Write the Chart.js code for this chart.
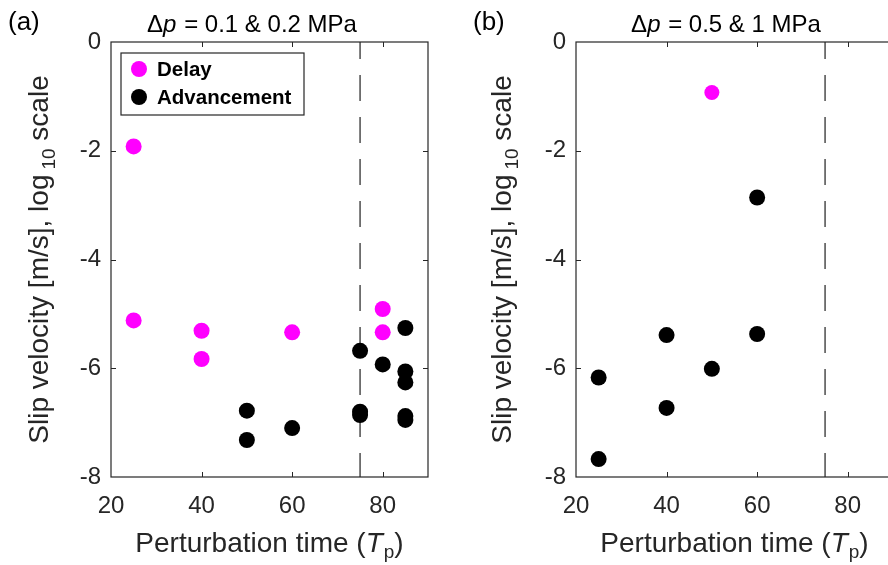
<!DOCTYPE html>
<html><head><meta charset="utf-8">
<script src="https://cdn.jsdelivr.net/npm/chart.js@4/dist/chart.umd.min.js"></script>
<style>
html,body{margin:0;padding:0;width:888px;height:565px;overflow:hidden;background:#fff;}
.wrap{position:absolute;top:0;height:565px;}
canvas{display:block;}
</style></head><body>
<div class="wrap" style="left:0;width:444px"><canvas id="ca" width="444" height="565"></canvas></div>
<div class="wrap" style="left:444px;width:500px"><canvas id="cb" width="500" height="565"></canvas></div>
<script>
// ---- data ----
const xTicks = [20, 40, 60, 80];
const yTicks = [0, -2, -4, -6, -8];
const seriesNames = ['Delay', 'Advancement'];
const markerTime = 75; // dashed reference line (Tp)

// panel (a): Δp = 0.1 & 0.2 MPa
const aDelayX = [25, 25, 40, 40, 60, 80, 80];
const aDelayY = [-1.92, -5.12, -5.31, -5.83, -5.34, -4.91, -5.34];
const aAdvX = [50, 50, 60, 75, 75, 75, 80, 85, 85, 85, 85, 85];
const aAdvY = [-6.78, -7.32, -7.10, -5.68, -6.80, -6.86, -5.93, -5.26, -6.06, -6.26, -6.88, -6.95];

// panel (b): Δp = 0.5 & 1 MPa
const bDelayX = [50];
const bDelayY = [-0.93];
const bAdvX = [60, 40, 60, 50, 25, 40, 25];
const bAdvY = [-2.86, -5.39, -5.37, -6.01, -6.17, -6.73, -7.67];

const F = '"Liberation Sans", Arial, Helvetica, sans-serif';
const AX = '#262626';
const MAG = '#ff00ff';
const BLK = '#000000';

function pts(xs, ys) { return xs.map((x, i) => ({ x: x, y: ys[i] })); }

function drawTitle(ctx, cx, by, rest) {
  ctx.save();
  ctx.fillStyle = '#000';
  ctx.textBaseline = 'alphabetic';
  ctx.textAlign = 'left';
  const n = '24px ' + F, it = 'italic 24px ' + F;
  ctx.font = n; const w1 = ctx.measureText('\u0394').width;
  ctx.font = it; const w2 = ctx.measureText('p').width + 1;
  ctx.font = n; const w3 = ctx.measureText(rest).width;
  let x = cx - (w1 + w2 + w3) / 2;
  ctx.font = n; ctx.fillText('\u0394', x, by); x += w1;
  ctx.font = it; ctx.fillText('p', x, by); x += w2;
  ctx.font = n; ctx.fillText(rest, x, by);
  ctx.restore();
}

function drawXLabel(ctx, cx, by) {
  ctx.save();
  ctx.fillStyle = AX;
  ctx.textBaseline = 'alphabetic';
  ctx.textAlign = 'left';
  const n = '28px ' + F, it = 'italic 28px ' + F, s = '19px ' + F;
  const a = 'Perturbation time (';
  ctx.font = n; const w1 = ctx.measureText(a).width;
  ctx.font = it; const w2 = ctx.measureText('T').width + 1;
  ctx.font = s; const w3 = ctx.measureText('p').width;
  ctx.font = n; const w4 = ctx.measureText(')').width;
  let x = cx - (w1 + w2 + w3 + w4) / 2;
  ctx.font = n; ctx.fillText(a, x, by); x += w1;
  ctx.font = it; ctx.fillText('T', x, by); x += w2;
  ctx.font = s; ctx.fillText('p', x, by + 6); x += w3;
  ctx.font = n; ctx.fillText(')', x, by);
  ctx.restore();
}

function drawYLabel(ctx, bx, cy) {
  ctx.save();
  ctx.translate(bx, cy);
  ctx.rotate(-Math.PI / 2);
  ctx.fillStyle = AX;
  ctx.textBaseline = 'alphabetic';
  ctx.textAlign = 'left';
  const n = '28px ' + F, s = '19px ' + F;
  const a = 'Slip velocity [m/s], log', b = '10', c = ' scale';
  ctx.font = n; const w1 = ctx.measureText(a).width + 5;
  ctx.font = s; const w2 = ctx.measureText(b).width;
  ctx.font = n; const w3 = ctx.measureText(c).width;
  let x = -(w1 + w2 + w3) / 2;
  ctx.font = n; ctx.fillText(a, x, 0); x += w1;
  ctx.font = s; ctx.fillText(b, x, 7); x += w2;
  ctx.font = n; ctx.fillText(c, x, 0);
  ctx.restore();
}

function makePlugin(opts) {
  return {
    id: 'deco' + opts.tag,
    afterDatasetsDraw(chart) {
      const ctx = chart.ctx, ca = chart.chartArea;
      const xs = chart.scales.x, ys = chart.scales.y;
      ctx.save();
      // axes box
      ctx.strokeStyle = AX;
      ctx.lineWidth = 1.2;
      ctx.strokeRect(ca.left, ca.top, ca.right - ca.left, ca.bottom - ca.top);
      // inward ticks
      const tl = 5;
      ctx.beginPath();
      xTicks.forEach(v => {
        const px = Math.round(xs.getPixelForValue(v)) + 0.5;
        if (px <= ca.left + 1 || px >= ca.right - 1) return;
        ctx.moveTo(px, ca.bottom); ctx.lineTo(px, ca.bottom - tl);
        ctx.moveTo(px, ca.top); ctx.lineTo(px, ca.top + tl);
      });
      yTicks.forEach(v => {
        const py = Math.round(ys.getPixelForValue(v)) + 0.5;
        if (py <= ca.top + 1 || py >= ca.bottom - 1) return;
        ctx.moveTo(ca.left, py); ctx.lineTo(ca.left + tl, py);
        ctx.moveTo(ca.right, py); ctx.lineTo(ca.right - tl, py);
      });
      ctx.lineWidth = 1;
      ctx.stroke();
      ctx.restore();

      // texts
      drawTitle(ctx, opts.titleX, 32, opts.titleRest);
      ctx.save();
      ctx.fillStyle = '#000';
      ctx.font = '26px ' + F;
      ctx.textBaseline = 'alphabetic';
      ctx.textAlign = 'left';
      ctx.fillText(opts.panel, opts.panelX, 30);
      ctx.restore();
      drawXLabel(ctx, (ca.left + ca.right) / 2, 552);
      drawYLabel(ctx, opts.yLabelX, (ca.top + ca.bottom) / 2);

      // legend
      if (opts.legend) {
        const lx = ca.left + 10, ly = ca.top + 11, lw = 183, lh = 62;
        ctx.save();
        ctx.fillStyle = '#fff';
        ctx.fillRect(lx, ly, lw, lh);
        ctx.strokeStyle = AX;
        ctx.lineWidth = 1.2;
        ctx.strokeRect(lx, ly, lw, lh);
        const rows = [ly + 16, ly + 44];
        chart.data.datasets.slice(0, 2).forEach((ds, i) => {
          ctx.fillStyle = ds.backgroundColor;
          ctx.beginPath();
          ctx.arc(lx + 18, rows[i], 8, 0, Math.PI * 2);
          ctx.fill();
          ctx.fillStyle = '#000';
          ctx.font = 'bold 20.5px ' + F;
          ctx.textBaseline = 'middle';
          ctx.textAlign = 'left';
          ctx.fillText(ds.label, lx + 36, rows[i] + 1);
        });
        ctx.restore();
      }
    }
  };
}

function makeChart(id, delay, adv, r, layoutPad, opts) {
  return new Chart(document.getElementById(id), {
    data: {
      datasets: [
        { type: 'scatter', label: seriesNames[0], data: delay, backgroundColor: MAG, borderWidth: 0,
          pointRadius: r, pointHoverRadius: r },
        { type: 'scatter', label: seriesNames[1], data: adv, backgroundColor: BLK, borderWidth: 0,
          pointRadius: 8, pointHoverRadius: 8 },
        { type: 'line', label: 'ref', data: [{ x: markerTime, y: 0 }, { x: markerTime, y: -8 }],
          borderColor: '#4d4d4d', borderWidth: 1.5, borderDash: [26, 16], borderDashOffset: 9,
          pointRadius: 0, fill: false }
      ]
    },
    options: {
      responsive: false,
      animation: false,
      events: [],
      layout: { padding: layoutPad },
      plugins: { legend: { display: false }, tooltip: { enabled: false }, title: { display: false } },
      scales: {
        x: {
          type: 'linear', min: 20, max: 90,
          afterBuildTicks: s => { s.ticks = xTicks.map(v => ({ value: v })); },
          afterFit: s => { s.height = 88; },
          grid: { display: false, drawTicks: false },
          border: { display: false },
          ticks: { padding: 15, font: { family: F, size: 24 }, color: AX, maxRotation: 0, autoSkip: false }
        },
        y: {
          type: 'linear', min: -8, max: 0,
          afterBuildTicks: s => { s.ticks = yTicks.map(v => ({ value: v })); },
          afterFit: s => { s.width = 70; },
          grid: { display: false, drawTicks: false },
          border: { display: false },
          ticks: { padding: 10, font: { family: F, size: 24 }, color: AX, autoSkip: false }
        }
      }
    },
    plugins: [makePlugin(opts)]
  });
}

makeChart('ca', pts(aDelayX, aDelayY), pts(aAdvX, aAdvY), 8,
  { left: 41, right: 16, top: 42, bottom: 0 },
  { tag: 'a', titleX: 252, titleRest: ' = 0.1 & 0.2 MPa', panel: '(a)', panelX: 8, yLabelX: 48, legend: true });

makeChart('cb', pts(bDelayX, bDelayY), pts(bAdvX, bAdvY), 7.5,
  { left: 62, right: 51, top: 42, bottom: 0 },
  { tag: 'b', titleX: 282, titleRest: ' = 0.5 & 1 MPa', panel: '(b)', panelX: 29, yLabelX: 67, legend: false });
</script>
</body></html>
